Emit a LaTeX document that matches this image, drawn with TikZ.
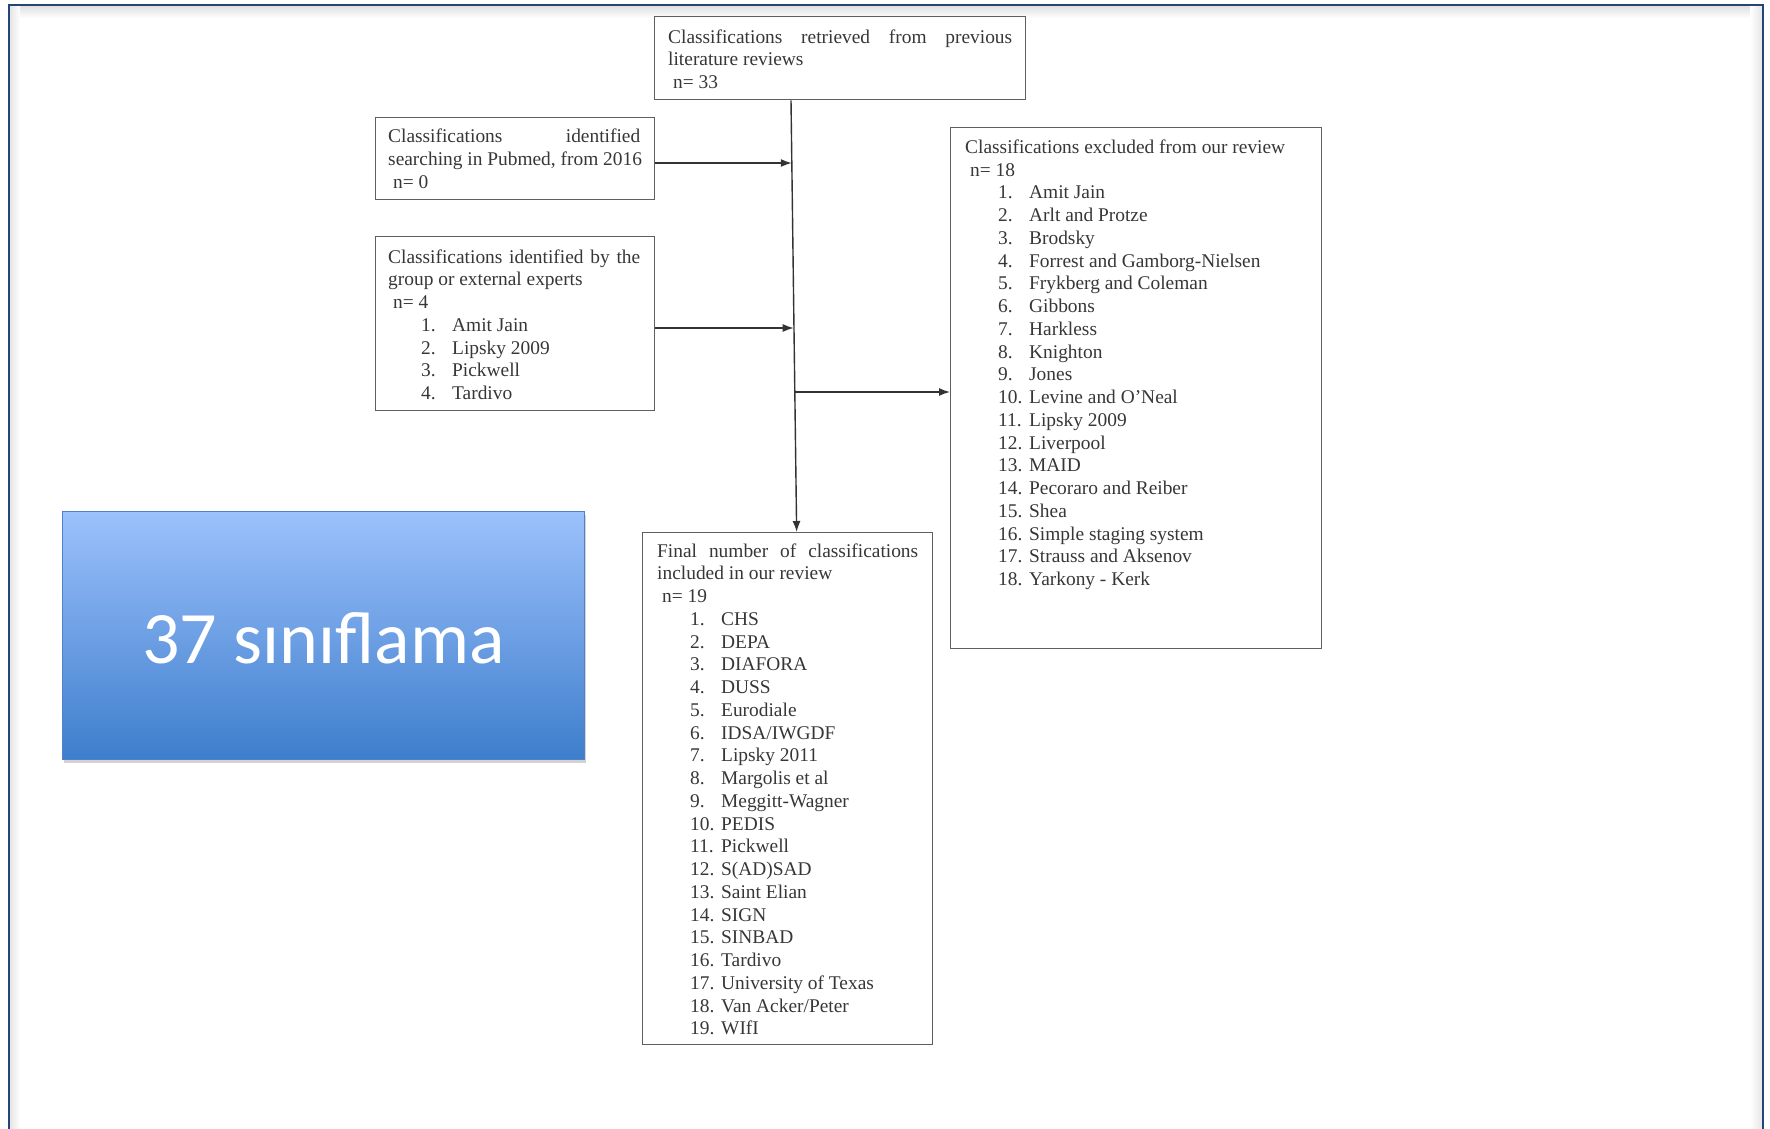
\documentclass[tikz,border=0pt]{standalone}
\usepackage{fontspec}
\setmainfont{Liberation Serif}
\newfontfamily\calib{Carlito}
\usetikzlibrary{arrows.meta,shadows,calc}
\definecolor{framenavy}{RGB}{38,68,120}
\definecolor{btop}{RGB}{156,193,252}
\definecolor{bbot}{RGB}{62,126,204}
\definecolor{bluebord}{RGB}{80,130,200}
\definecolor{txtgray}{RGB}{55,55,55}
\definecolor{boxgray}{RGB}{95,95,95}
\newcommand{\itm}[2]{\hspace*{33pt}\makebox[31pt][l]{#1}#2}
\begin{document}
\begin{tikzpicture}[x=1pt,y=-1pt,
  fbox/.style={draw=boxgray, line width=1.3pt, inner sep=0pt, anchor=north west},
  ftext/.style={inner sep=0pt, anchor=north west, align=left, text=txtgray,
                font=\fontsize{19.4}{22.75}\selectfont},
  arr/.style={draw=black!80, line width=1.4pt, -{Latex[length=11pt,width=8pt]}},
  spine/.style={draw=black!80, line width=1.4pt}]
\useasboundingbox (0,0) rectangle (1770,1128);
\fill[white] (0,0) rectangle (1770,1128);
% frame with soft inner shadow
\shade[top color=black!12, bottom color=white] (10,6) rectangle (1762,18);
\shade[left color=black!10, right color=white] (10,6) rectangle (20,1128);
\shade[left color=white, right color=black!10] (1750,6) rectangle (1762,1128);
\draw[framenavy, line width=2.2pt] (9,1132) -- (9,5) -- (1763,5) -- (1763,1132);

% boxes
\node[fbox, minimum width=371pt, minimum height=83pt] (lit) at (654,16) {};
\node[fbox, minimum width=279pt, minimum height=82pt] (pubmed) at (375,117) {};
\node[fbox, minimum width=279pt, minimum height=174pt] (experts) at (375,236) {};
\node[fbox, minimum width=371pt, minimum height=521pt] (excl) at (950,127) {};
\node[fbox, minimum width=290pt, minimum height=512pt] (final) at (642,532) {};

% texts
\node[ftext] (litt) at (668,27.1) {\strut\makebox[344pt][s]{Classifications retrieved from previous}\\
literature reviews\\
\hspace*{5pt}n= 33};
\node[ftext] (pubmedt) at (388,126.6) {\strut\makebox[252pt][s]{Classifications identified}\\
searching in Pubmed, from 2016\\
\hspace*{5pt}n= 0};
\node[ftext] (expertst) at (388,247.1) {\strut\makebox[252pt][s]{Classifications identified by the}\\
group or external experts\\
\hspace*{5pt}n= 4\\
\itm{1.}{Amit Jain}\\
\itm{2.}{Lipsky 2009}\\
\itm{3.}{Pickwell}\\
\itm{4.}{Tardivo}};
\node[ftext] (exclt) at (965,137.2) {\strut Classifications excluded from our review\\
\hspace*{5pt}n= 18\\
\itm{1.}{Amit Jain}\\
\itm{2.}{Arlt and Protze}\\
\itm{3.}{Brodsky}\\
\itm{4.}{Forrest and Gamborg-Nielsen}\\
\itm{5.}{Frykberg and Coleman}\\
\itm{6.}{Gibbons}\\
\itm{7.}{Harkless}\\
\itm{8.}{Knighton}\\
\itm{9.}{Jones}\\
\itm{10.}{Levine and O'Neal}\\
\itm{11.}{Lipsky 2009}\\
\itm{12.}{Liverpool}\\
\itm{13.}{MAID}\\
\itm{14.}{Pecoraro and Reiber}\\
\itm{15.}{Shea}\\
\itm{16.}{Simple staging system}\\
\itm{17.}{Strauss and Aksenov}\\
\itm{18.}{Yarkony - Kerk}};
\node[ftext] (finalt) at (657,541.1) {\strut\makebox[261pt][s]{Final number of classifications}\\
included in our review\\
\hspace*{5pt}n= 19\\
\itm{1.}{CHS}\\
\itm{2.}{DEPA}\\
\itm{3.}{DIAFORA}\\
\itm{4.}{DUSS}\\
\itm{5.}{Eurodiale}\\
\itm{6.}{IDSA/IWGDF}\\
\itm{7.}{Lipsky 2011}\\
\itm{8.}{Margolis et al}\\
\itm{9.}{Meggitt-Wagner}\\
\itm{10.}{PEDIS}\\
\itm{11.}{Pickwell}\\
\itm{12.}{S(AD)SAD}\\
\itm{13.}{Saint Elian}\\
\itm{14.}{SIGN}\\
\itm{15.}{SINBAD}\\
\itm{16.}{Tardivo}\\
\itm{17.}{University of Texas}\\
\itm{18.}{Van Acker/Peter}\\
\itm{19.}{WIfI}};

% connectors
\coordinate (sTop) at ($(lit.south west)+(137,0)$);
\coordinate (sBot) at ($(final.north)+(9,0)$);
\coordinate (j1) at (791.8,163);
\coordinate (j2) at (793.7,328);
\coordinate (j3) at (795,392);
\draw[arr] (sTop) -- (sBot);
\draw[arr] (pubmed.east |- j1) -- (j1);
\draw[arr] (experts.east |- j2) -- (j2);
\draw[arr] (j3) -- (j3 -| excl.west);

% blue box
\node[draw=bluebord, line width=0.8pt, top color=btop, bottom color=bbot,
      minimum width=522pt, minimum height=248pt, anchor=north west, inner sep=0pt,
      drop shadow={opacity=0.35, shadow xshift=2pt, shadow yshift=-4pt}] (blue) at (62,511) {};
\node[text=white, font=\calib\fontsize{74}{80}\selectfont, inner sep=0pt] (bluet) at ([yshift=-3pt]blue.center) {37 sınıflama};
\end{tikzpicture}
\end{document}
